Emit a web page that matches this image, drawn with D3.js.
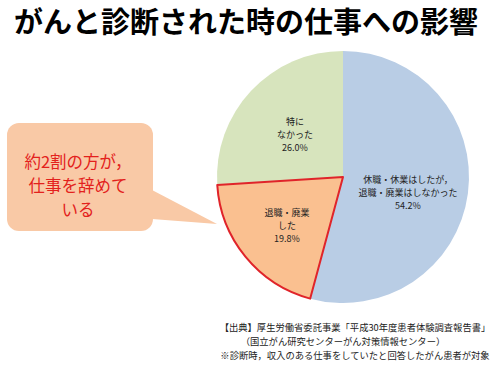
<!DOCTYPE html>
<html>
<head>
<meta charset="utf-8">
<script src="https://cdn.jsdelivr.net/npm/d3@7"></script>
<style>
  body { margin: 0; background: #fff; }
  text { font-family: "Noto Sans CJK JP", "Noto Sans", sans-serif; }
</style>
</head>
<body>
<script>
const title = "がんと診断された時の仕事への影響";
const categories = ["休職・休業はしたが，|退職・廃業はしなかった", "退職・廃業|した", "特に|なかった"];
const values = [54.2, 19.8, 26.0];
const colors = ["#b9cde5", "#fac090", "#d7e4bd"];
const calloutLines = ["約2割の方が，", "仕事を辞めて", "いる"];
const sourceLines = [
  "【出典】厚生労働省委託事業「平成30年度患者体験調査報告書」",
  "（国立がん研究センターがん対策情報センター）",
  "※診断時，収入のある仕事をしていたと回答したがん患者が対象"
];

const width = 500, height = 366;
const cx = 343, cy = 177, radius = 126;

const svg = d3.select("body").append("svg")
    .attr("width", width)
    .attr("height", height);

svg.append("text")
    .attr("x", 246)
    .attr("y", 33)
    .attr("text-anchor", "middle")
    .attr("font-size", 29)
    .attr("font-weight", "bold")
    .attr("fill", "#000")
    .text(title);

const pie = d3.pie().sort(null).value(d => d)(values);
const arc = d3.arc().innerRadius(0).outerRadius(radius);

const g = svg.append("g").attr("transform", `translate(${cx},${cy})`);

g.selectAll("path")
  .data(pie)
  .join("path")
    .attr("d", arc)
    .attr("fill", (d, i) => colors[i]);

// highlight the "resigned" slice
g.append("path")
    .attr("d", arc(pie[1]))
    .attr("fill", "none")
    .attr("stroke", "#e0242a")
    .attr("stroke-width", 2)
    .attr("stroke-linejoin", "round");

// label centres relative to the pie centre
const offsets = [[65, 16], [-56, 49], [-48, -42]];
categories.forEach((c, i) => {
  const lines = c.split("|").concat([values[i].toFixed(1) + "%"]);
  lines.forEach((l, j) => {
    g.append("text")
        .attr("x", offsets[i][0])
        .attr("y", offsets[i][1] + (j - (lines.length - 1) / 2) * 13.2 + 3.2)
        .attr("text-anchor", "middle")
        .attr("font-size", 9)
        .attr("fill", "#222")
        .text(l);
  });
});

// callout bubble
const bubble = svg.append("g");
bubble.append("path")
    .attr("d", "M152,190 L217,224 L152,219 Z")
    .attr("fill", "#f9c9a6");
bubble.append("rect")
    .attr("x", 7)
    .attr("y", 123)
    .attr("width", 146)
    .attr("height", 108)
    .attr("rx", 12)
    .attr("fill", "#f9c9a6");

calloutLines.forEach((l, j) => {
  bubble.append("text")
      .attr("x", 78)
      .attr("y", 168 + j * 24)
      .attr("text-anchor", "middle")
      .attr("font-size", 16.5)
      .attr("fill", "#e3211c")
      .text(l);
});

const srcX = [355, 343, 355];
sourceLines.forEach((l, j) => {
  svg.append("text")
      .attr("x", srcX[j])
      .attr("y", 331 + j * 14)
      .attr("text-anchor", "middle")
      .attr("font-size", 9.3)
      .attr("fill", "#222")
      .text(l);
});
</script>
</body>
</html>
